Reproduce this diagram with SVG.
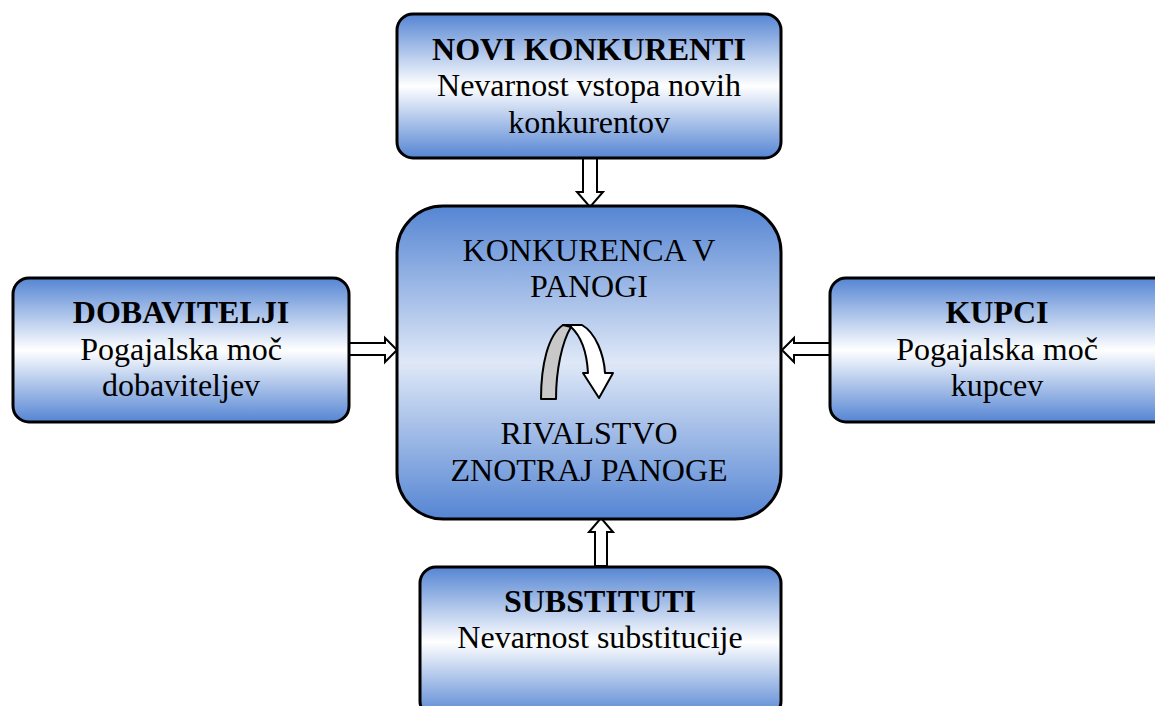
<svg xmlns="http://www.w3.org/2000/svg" width="1155" height="706" viewBox="0 0 1155 706">
<defs>
<linearGradient id="g" x1="0" y1="0" x2="0" y2="1">
<stop offset="0" stop-color="#5585d3"/>
<stop offset="0.5" stop-color="#ffffff"/>
<stop offset="1" stop-color="#5585d3"/>
</linearGradient>
<linearGradient id="gc" x1="0" y1="0" x2="0" y2="1">
<stop offset="0" stop-color="#5585d3"/>
<stop offset="0.5" stop-color="#dfe8f7"/>
<stop offset="1" stop-color="#5585d3"/>
</linearGradient>
<style>
.box{stroke:#000;stroke-width:3;fill:url(#g)}
.t{font-family:"Liberation Serif","Times New Roman",serif;font-size:32px;text-anchor:middle;fill:#000}
.b{font-weight:bold}
.arr{fill:#fff;stroke:#000;stroke-width:2;stroke-linejoin:miter}
</style>
</defs>
<g id="connectors">
<path class="arr" d="M583,158 L583,192 L577,192 L590,207 L603,192 L597,192 L597,158 Z"/>
<path class="arr" d="M595,566 L595,532 L589,532 L601,518 L613,532 L607,532 L607,566 Z"/>
<path class="arr" d="M349,343 L385,343 L385,338 L397,350 L385,362 L385,355 L349,355 Z"/>
<path class="arr" d="M830,343 L794,343 L794,338 L782,350 L794,362 L794,355 L830,355 Z"/>
</g>
<g id="novi">
<rect class="box" x="397" y="14" width="384" height="144" rx="16"/>
<text class="t b" x="589" y="60">NOVI KONKURENTI</text>
<text class="t" x="589" y="96">Nevarnost vstopa novih</text>
<text class="t" x="589" y="133">konkurentov</text>
</g>
<g id="center">
<rect class="box" x="397" y="206" width="384" height="313" rx="46" style="fill:url(#gc)"/>
<text class="t" x="589" y="261">KONKURENCA V</text>
<text class="t" x="589" y="297">PANOGI</text>
<text class="t" x="589" y="444">RIVALSTVO</text>
<text class="t" x="589" y="481">ZNOTRAJ PANOGE</text>
<path d="M563,325 L582,325 C596,333 604,355 605,373 L613,373 L599,398 L583,373 L588,373 C587,355 582,337 571,327 Z" fill="#fff" stroke="#000" stroke-width="2" stroke-linejoin="round"/>
<path d="M541,399 C541,365 548,335 563,325 L571,327 C562,342 556,370 556,399 Z" fill="#c8c8c8" stroke="#000" stroke-width="2" stroke-linejoin="round"/>
</g>
<g id="dobavitelji">
<rect class="box" x="13" y="278" width="336" height="144" rx="16"/>
<text class="t b" x="181" y="323">DOBAVITELJI</text>
<text class="t" x="181" y="360">Pogajalska moč</text>
<text class="t" x="181" y="396">dobaviteljev</text>
</g>
<g id="kupci">
<rect class="box" x="830" y="278" width="340" height="144" rx="16"/>
<text class="t b" x="997" y="323">KUPCI</text>
<text class="t" x="997" y="360">Pogajalska moč</text>
<text class="t" x="997" y="396">kupcev</text>
</g>
<g id="substituti">
<rect class="box" x="420" y="567" width="361" height="150" rx="16"/>
<text class="t b" x="600" y="612">SUBSTITUTI</text>
<text class="t" x="600" y="648">Nevarnost substitucije</text>
</g>
</svg>
